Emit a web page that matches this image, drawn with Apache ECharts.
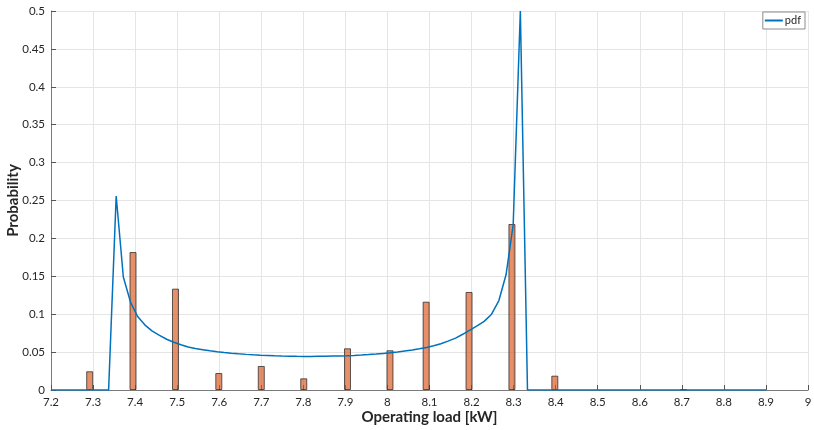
<!DOCTYPE html>
<html>
<head>
<meta charset="utf-8">
<script src="https://cdn.jsdelivr.net/npm/echarts@6/dist/echarts.min.js"></script>
<style>html,body{margin:0;padding:0;background:#fff}#c{width:814px;height:430px}</style>
</head>
<body>
<div id="c"></div>
<script>
// Histogram bars (bin centre, probability)
const barX = [7.292, 7.395, 7.496, 7.599, 7.700, 7.801, 7.905, 8.006, 8.092, 8.194, 8.296, 8.398, 8.704];
const barY = [0.0247, 0.182, 0.1337, 0.0224, 0.0317, 0.0154, 0.055, 0.0524, 0.1165, 0.1293, 0.219, 0.0189, 0.0012];

// pdf curve (x, value)
const pdfX = [7.2, 7.337, 7.355, 7.372, 7.389, 7.406, 7.423, 7.440, 7.458, 7.475, 7.492, 7.509, 7.526, 7.543, 7.561, 7.578, 7.595, 7.612, 7.629, 7.646, 7.664, 7.681, 7.698, 7.715, 7.732, 7.749, 7.767, 7.784, 7.801, 7.818, 7.835, 7.852, 7.870, 7.887, 7.904, 7.921, 7.938, 7.955, 7.973, 7.990, 8.007, 8.024, 8.041, 8.059, 8.076, 8.093, 8.110, 8.127, 8.144, 8.162, 8.179, 8.196, 8.213, 8.230, 8.247, 8.265, 8.282, 8.299, 8.316, 8.333, 8.9];
const pdfY = [0, 0, 0.256, 0.149, 0.116, 0.097, 0.086, 0.078, 0.072, 0.067, 0.063, 0.0598, 0.0568, 0.0548, 0.0532, 0.0517, 0.0504, 0.0494, 0.0485, 0.0477, 0.0470, 0.0464, 0.0459, 0.0455, 0.0451, 0.0448, 0.0446, 0.0444, 0.0443, 0.0443, 0.0444, 0.0445, 0.0447, 0.0449, 0.0452, 0.0456, 0.0461, 0.0467, 0.0474, 0.0482, 0.0490, 0.0500, 0.0513, 0.0527, 0.0543, 0.0562, 0.0585, 0.0610, 0.0645, 0.0685, 0.0735, 0.0790, 0.0845, 0.0905, 0.0995, 0.1180, 0.1520, 0.2180, 0.5000, 0, 0];

const xTicks = {min: 7.2, max: 9, interval: 0.1};
const yTicks = {min: 0, max: 0.5, interval: 0.05};

const chart = echarts.init(document.getElementById('c'), null, {renderer: 'canvas'});
const font = 'Lato';
chart.setOption({
  animation: false,
  backgroundColor: '#fff',
  grid: {left: 51, right: 6, top: 11, bottom: 40, containLabel: false, outerBoundsMode: 'none'},
  legend: {
    data: ['pdf'], right: 9, top: 12, orient: 'horizontal',
    icon: 'rect', itemWidth: 18, itemHeight: 2, itemGap: 0,
    borderColor: '#8c8c8c', borderWidth: 1, padding: [3, 4, 3, 2], borderRadius: 0,
    backgroundColor: '#fff',
    textStyle: {fontFamily: font, fontSize: 11, color: '#262626', padding: [0, 0, 0, -3]}
  },
  xAxis: {
    type: 'value', min: xTicks.min, max: xTicks.max, interval: xTicks.interval,
    name: 'Operating load [kW]', nameLocation: 'middle', nameGap: 20, nameMoveOverlap: false,
    nameTextStyle: {fontFamily: font, fontSize: 15, fontWeight: 'bold', color: '#262626'},
    axisLine: {show: true, onZero: false, lineStyle: {color: '#7a7a7a', width: 1}},
    axisTick: {show: true, inside: true, length: 5, lineStyle: {color: '#555'}},
    axisLabel: {fontFamily: font, fontSize: 11.5, color: '#262626', margin: 6},
    splitLine: {show: true, lineStyle: {color: '#e5e5e5', width: 1}}
  },
  yAxis: {
    type: 'value', min: yTicks.min, max: yTicks.max, interval: yTicks.interval,
    name: 'Probability', nameLocation: 'middle', nameGap: 30, nameRotate: 90, nameMoveOverlap: false,
    nameTextStyle: {fontFamily: font, fontSize: 15, fontWeight: 'bold', color: '#262626'},
    axisLine: {show: true, onZero: false, lineStyle: {color: '#7a7a7a', width: 1}},
    axisTick: {show: true, inside: true, length: 5, lineStyle: {color: '#555'}},
    axisLabel: {fontFamily: font, fontSize: 11.5, color: '#262626', margin: 6},
    splitLine: {show: true, lineStyle: {color: '#e5e5e5', width: 1}}
  },
  series: [
    {
      name: 'hist', type: 'bar', barWidth: 7,
      data: barX.map((x, i) => [x, barY[i]]),
      itemStyle: {color: 'rgba(217,83,25,0.65)', borderColor: 'rgba(40,40,40,0.75)', borderWidth: 1},
      z: 2
    },
    {
      name: 'pdf', type: 'line', showSymbol: false, symbol: 'none',
      data: pdfX.map((x, i) => [x, pdfY[i]]),
      lineStyle: {color: '#0072BD', width: 1.5},
      itemStyle: {color: '#0072BD'},
      z: 3
    }
  ]
});
</script>
</body>
</html>
